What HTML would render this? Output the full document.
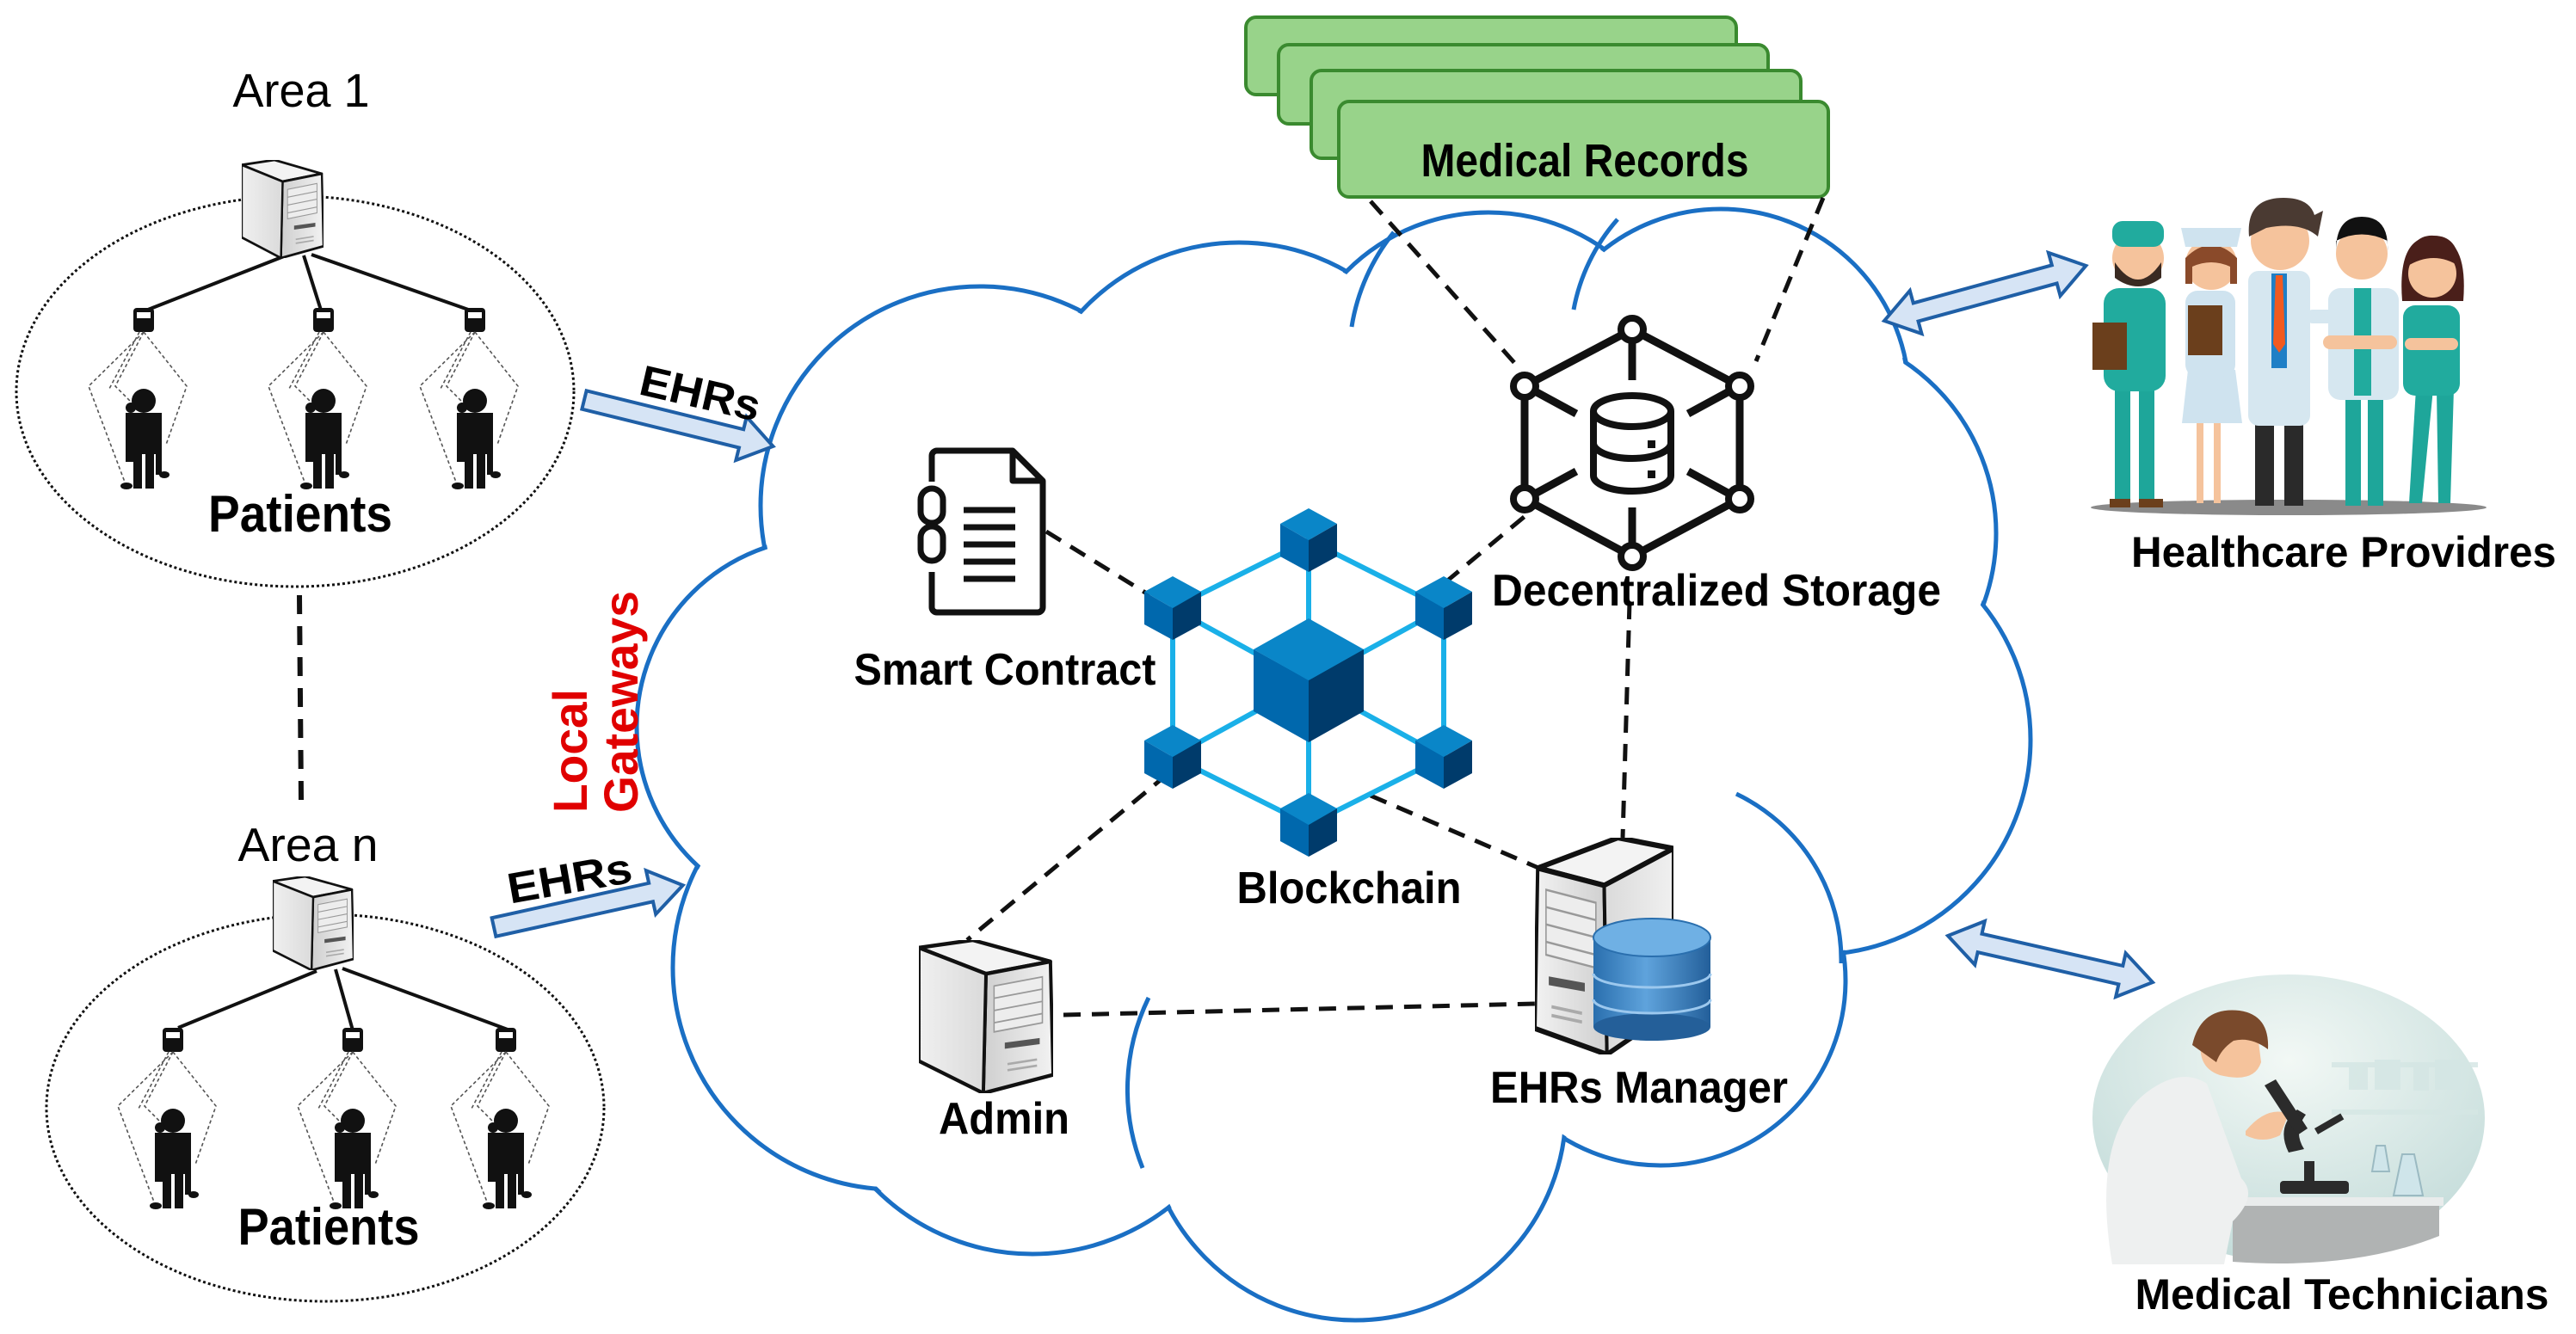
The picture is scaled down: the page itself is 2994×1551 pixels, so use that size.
<!DOCTYPE html>
<html><head><meta charset="utf-8"><style>
html,body{margin:0;padding:0;background:#fff;}
svg{display:block;}
text{font-family:"Liberation Sans",Arial,sans-serif;}
</style></head><body>
<svg width="2994" height="1551" viewBox="0 0 2994 1551" xmlns="http://www.w3.org/2000/svg">
<defs>
 <linearGradient id="srvF" x1="0" x2="1"><stop offset="0" stop-color="#f2f2f2"/><stop offset="1" stop-color="#cfcfcf"/></linearGradient>
 <linearGradient id="srvS" x1="0" x2="1"><stop offset="0" stop-color="#dadada"/><stop offset="1" stop-color="#f0f0f0"/></linearGradient>
 <linearGradient id="dbg" x1="0" x2="1"><stop offset="0" stop-color="#2a6fae"/><stop offset="0.45" stop-color="#5fa3dc"/><stop offset="1" stop-color="#235f9a"/></linearGradient>
 <radialGradient id="lab" cx="0.5" cy="0.3" r="0.7"><stop offset="0" stop-color="#f2f8f5"/><stop offset="1" stop-color="#c4dcda"/></radialGradient>
 <symbol id="server" viewBox="0 0 100 100" preserveAspectRatio="none">
  <polygon points="2,14 60,0 100,5 50,22" fill="#f3f3f3" stroke="#111" stroke-width="2.5" stroke-linejoin="round"/>
  <polygon points="2,14 50,22 52,100 0,88" fill="url(#srvF)" stroke="#111" stroke-width="2.5" stroke-linejoin="round"/>
  <polygon points="50,22 100,5 100,79 52,100" fill="url(#srvS)" stroke="#111" stroke-width="2.5" stroke-linejoin="round"/>
  <polygon points="8,24 44,30 44,60 8,54" fill="#ededed" stroke="#999" stroke-width="1"/>
  <line x1="8" y1="32" x2="44" y2="38" stroke="#999" stroke-width="1"/>
  <line x1="8" y1="40" x2="44" y2="46" stroke="#999" stroke-width="1"/>
  <line x1="8" y1="48" x2="44" y2="54" stroke="#999" stroke-width="1"/>
  <polygon points="10,64 36,67 36,71 10,68" fill="#555"/>
  <line x1="12" y1="78" x2="34" y2="81" stroke="#aaa" stroke-width="1.5"/>
  <line x1="12" y1="82" x2="34" y2="85" stroke="#aaa" stroke-width="1.5"/>
 </symbol>
 <g id="patient">
  <rect x="-12" y="-14" width="24" height="28" rx="4" fill="#111"/>
  <rect x="-8" y="-9" width="16" height="7" fill="#fff"/>
  <g fill="none" stroke="#555" stroke-width="1.6" stroke-dasharray="4 3">
   <path d="M0,14 L-64,77 L-21,191"/>
   <path d="M0,14 L-33,77 L-10,100"/>
   <path d="M0,14 L50,77 L26,145"/>
   <path d="M-5,14 L-40,80"/>
  </g>
  <circle cx="0" cy="94" r="14" fill="#111"/>
  <circle cx="-15" cy="102" r="6" fill="#111"/>
  <rect x="-21" y="108" width="42" height="48" fill="#111"/>
  <rect x="-21" y="150" width="10" height="15" fill="#111"/>
  <rect x="14" y="150" width="7" height="30" fill="#111"/>
  <ellipse cx="24" cy="180" rx="6" ry="4" fill="#111"/>
  <rect x="-12" y="150" width="10" height="46" fill="#111"/>
  <rect x="2" y="150" width="10" height="46" fill="#111"/>
  <ellipse cx="-20" cy="193" rx="7" ry="4" fill="#111"/>
 </g>
</defs>

<!-- ===== Left areas ===== -->
<ellipse cx="343" cy="455" rx="324" ry="227" fill="none" stroke="#111" stroke-width="3" stroke-dasharray="3 3"/>
<ellipse cx="378" cy="1288" rx="324" ry="225" fill="none" stroke="#111" stroke-width="3" stroke-dasharray="3 3"/>
<g stroke="#111" stroke-width="4">
 <line x1="330" y1="298" x2="172" y2="360"/><line x1="353" y1="297" x2="376" y2="370"/><line x1="362" y1="296" x2="550" y2="362"/>
 <line x1="368" y1="1129" x2="207" y2="1195"/><line x1="390" y1="1127" x2="412" y2="1205"/><line x1="398" y1="1126" x2="590" y2="1197"/>
</g>
<g transform="translate(376,186) scale(-1,1)"><use href="#server" width="95" height="114"/></g>
<g transform="translate(411,1019) scale(-1,1)"><use href="#server" width="94" height="109"/></g>
<use href="#patient" transform="translate(167,372)"/>
<use href="#patient" transform="translate(376,372)"/>
<use href="#patient" transform="translate(552,372)"/>
<use href="#patient" transform="translate(201,1209)"/>
<use href="#patient" transform="translate(410,1209)"/>
<use href="#patient" transform="translate(588,1209)"/>

<text x="350" y="124" font-size="55" text-anchor="middle" textLength="159" lengthAdjust="spacingAndGlyphs">Area 1</text>
<text x="349" y="618" font-size="60" font-weight="bold" text-anchor="middle" textLength="214" lengthAdjust="spacingAndGlyphs">Patients</text>
<text x="358" y="1001" font-size="55" text-anchor="middle" textLength="163" lengthAdjust="spacingAndGlyphs">Area n</text>
<text x="382" y="1447" font-size="60" font-weight="bold" text-anchor="middle" textLength="211" lengthAdjust="spacingAndGlyphs">Patients</text>
<line x1="348" y1="692" x2="350" y2="930" stroke="#111" stroke-width="6" stroke-dasharray="22 14"/>

<!-- ===== Cloud ===== -->
<g fill="#fff" stroke="#1a6fc4" stroke-width="5">
 <circle cx="1139" cy="588" r="255"/>
 <circle cx="1440" cy="532" r="250"/>
 <circle cx="1730" cy="480" r="233"/>
 <circle cx="2000" cy="462" r="219"/>
 <circle cx="2080" cy="620" r="240"/>
 <circle cx="2110" cy="860" r="250"/>
 <circle cx="1930" cy="1140" r="215"/>
 <circle cx="1575" cy="1290" r="245"/>
 <circle cx="1200" cy="1200" r="258"/>
 <circle cx="1040" cy="1125" r="258"/>
 <circle cx="960" cy="845" r="220"/>
</g>
<g fill="#fff">
 <circle cx="1139" cy="588" r="252"/>
 <circle cx="1440" cy="532" r="247"/>
 <circle cx="1730" cy="480" r="230"/>
 <circle cx="2000" cy="462" r="216"/>
 <circle cx="2080" cy="620" r="237"/>
 <circle cx="2110" cy="860" r="247"/>
 <circle cx="1930" cy="1140" r="212"/>
 <circle cx="1575" cy="1290" r="242"/>
 <circle cx="1200" cy="1200" r="255"/>
 <circle cx="1040" cy="1125" r="255"/>
 <circle cx="960" cy="845" r="217"/>
 <polygon points="1000,700 1500,520 2000,500 2150,900 1900,1200 1500,1300 1050,1250 900,900"/>
</g>
<g fill="none" stroke="#1a6fc4" stroke-width="5">
 <path d="M1328,1358 A245,245 0 0 1 1335,1160"/>
 <path d="M2018,923 A215,215 0 0 1 2140,1120"/>
 <path d="M1571,380 A233,233 0 0 1 1620,270"/>
 <path d="M1829,360 A219,219 0 0 1 1880,255"/>
</g>

<!-- EHR arrows -->
<g transform="translate(679,465) rotate(13.8)"><polygon points="0,-11 188,-11 188,-26 226,0 188,26 188,11 0,11" fill="#d6e4f5" stroke="#1f5fa6" stroke-width="4"/></g>
<g transform="translate(574,1078) rotate(-12.5)"><polygon points="0,-11 187,-11 187,-26 225,0 187,26 187,11 0,11" fill="#d6e4f5" stroke="#1f5fa6" stroke-width="4"/></g>
<text transform="translate(810,474) rotate(13)" font-size="50" font-weight="bold" text-anchor="middle" textLength="142" lengthAdjust="spacingAndGlyphs">EHRs</text>
<text transform="translate(665,1038) rotate(-10)" font-size="50" font-weight="bold" text-anchor="middle" textLength="146" lengthAdjust="spacingAndGlyphs">EHRs</text>
<text transform="translate(682,873) rotate(-90)" font-size="56" font-weight="bold" fill="#e00000" text-anchor="middle" textLength="144" lengthAdjust="spacingAndGlyphs">Local</text>
<text transform="translate(741,816) rotate(-90)" font-size="56" font-weight="bold" fill="#e00000" text-anchor="middle" textLength="258" lengthAdjust="spacingAndGlyphs">Gateways</text>

<!-- Medical records -->
<g fill="#98d38a" stroke="#3a8a2f" stroke-width="4">
 <rect x="1448" y="20" width="570" height="90" rx="12"/>
 <rect x="1486" y="52" width="569" height="92" rx="12"/>
 <rect x="1524" y="82" width="569" height="102" rx="12"/>
 <rect x="1556" y="118" width="569" height="111" rx="12"/>
</g>
<text x="1842" y="205" font-size="54" font-weight="bold" text-anchor="middle" textLength="381" lengthAdjust="spacingAndGlyphs">Medical Records</text>

<!-- dashed connectors -->
<g stroke="#111" stroke-width="5" stroke-dasharray="20 13" fill="none">
 <line x1="1593" y1="234" x2="1763" y2="425"/>
 <line x1="2119" y1="230" x2="2041" y2="420"/>
 <line x1="1216" y1="618" x2="1336" y2="692"/>
 <line x1="1680" y1="677" x2="1775" y2="598"/>
 <line x1="1894" y1="700" x2="1886" y2="974"/>
 <line x1="1593" y1="925" x2="1788" y2="1009"/>
 <line x1="1357" y1="900" x2="1124" y2="1093"/>
 <line x1="1236" y1="1180" x2="1784" y2="1167"/>
</g>

<!-- Storage icon -->
<g stroke="#111" stroke-width="9" fill="none" stroke-linecap="butt">
 <polygon points="1897,383 2022,449 2022,580 1897,647 1772,580 1772,449"/>
 <line x1="1897" y1="396" x2="1897" y2="442"/>
 <line x1="1897" y1="590" x2="1897" y2="634"/>
 <line x1="1786" y1="456" x2="1832" y2="481"/>
 <line x1="2008" y1="456" x2="1962" y2="481"/>
 <line x1="1786" y1="573" x2="1832" y2="548"/>
 <line x1="2008" y1="573" x2="1962" y2="548"/>
 <path d="M1852,478 a45,18 0 0 1 90,0 v75 a45,18 0 0 1 -90,0 z" stroke-width="8"/>
 <path d="M1852,478 a45,18 0 0 0 90,0" stroke-width="8"/>
 <path d="M1852,515 a45,18 0 0 0 90,0" stroke-width="8"/>
</g>
<rect x="1915" y="512" width="9" height="9" fill="#111"/><rect x="1915" y="547" width="9" height="9" fill="#111"/>
<g fill="#fff" stroke="#111" stroke-width="8">
 <circle cx="1897" cy="383" r="13"/><circle cx="2022" cy="449" r="13"/><circle cx="2022" cy="580" r="13"/>
 <circle cx="1897" cy="647" r="13"/><circle cx="1772" cy="580" r="13"/><circle cx="1772" cy="449" r="13"/>
</g>
<text x="1995" y="704" font-size="52" font-weight="bold" text-anchor="middle" textLength="522" lengthAdjust="spacingAndGlyphs">Decentralized Storage</text>

<!-- Smart contract -->
<g fill="none" stroke="#111" stroke-width="7" stroke-linejoin="round">
 <path d="M1083,560 V530 a6,6 0 0 1 6,-6 H1177 L1212,559 V706 a6,6 0 0 1 -6,6 H1089 a6,6 0 0 1 -6,-6 V665"/>
 <path d="M1177,524 V559 H1212"/>
 <rect x="1070" y="568" width="26" height="40" rx="13"/>
 <rect x="1070" y="612" width="26" height="40" rx="13"/>
 <line x1="1120" y1="593" x2="1180" y2="593"/><line x1="1120" y1="613" x2="1180" y2="613"/>
 <line x1="1120" y1="633" x2="1180" y2="633"/><line x1="1120" y1="653" x2="1180" y2="653"/>
 <line x1="1120" y1="673" x2="1180" y2="673"/>
</g>
<text x="1168" y="796" font-size="52" font-weight="bold" text-anchor="middle" textLength="351" lengthAdjust="spacingAndGlyphs">Smart Contract</text>

<!-- Blockchain -->
<g stroke="#1ab0e8" stroke-width="6" fill="none">
 <polygon points="1521,628 1678,707 1678,880 1521,959 1363,880 1363,707"/>
 <line x1="1521" y1="628" x2="1521" y2="959"/>
 <line x1="1363" y1="707" x2="1678" y2="880"/>
 <line x1="1678" y1="707" x2="1363" y2="880"/>
</g>
<polygon points="1521,719 1585,755 1521,791 1457,755" fill="#0a86c8"/>
<polygon points="1457,755 1521,791 1521,863 1457,827" fill="#0068ad"/>
<polygon points="1521,791 1585,755 1585,827 1521,863" fill="#003b6b"/>
<g>
 <g transform="translate(1521,628)"><polygon points="0,-37 33,-19 0,0 -33,-19" fill="#0a86c8"/><polygon points="-33,-19 0,0 0,37 -33,19" fill="#0068ad"/><polygon points="0,0 33,-19 33,19 0,37" fill="#003b6b"/></g>
 <g transform="translate(1363,707)"><polygon points="0,-37 33,-19 0,0 -33,-19" fill="#0a86c8"/><polygon points="-33,-19 0,0 0,37 -33,19" fill="#0068ad"/><polygon points="0,0 33,-19 33,19 0,37" fill="#003b6b"/></g>
 <g transform="translate(1678,707)"><polygon points="0,-37 33,-19 0,0 -33,-19" fill="#0a86c8"/><polygon points="-33,-19 0,0 0,37 -33,19" fill="#0068ad"/><polygon points="0,0 33,-19 33,19 0,37" fill="#003b6b"/></g>
 <g transform="translate(1363,880)"><polygon points="0,-37 33,-19 0,0 -33,-19" fill="#0a86c8"/><polygon points="-33,-19 0,0 0,37 -33,19" fill="#0068ad"/><polygon points="0,0 33,-19 33,19 0,37" fill="#003b6b"/></g>
 <g transform="translate(1678,880)"><polygon points="0,-37 33,-19 0,0 -33,-19" fill="#0a86c8"/><polygon points="-33,-19 0,0 0,37 -33,19" fill="#0068ad"/><polygon points="0,0 33,-19 33,19 0,37" fill="#003b6b"/></g>
 <g transform="translate(1521,959)"><polygon points="0,-37 33,-19 0,0 -33,-19" fill="#0a86c8"/><polygon points="-33,-19 0,0 0,37 -33,19" fill="#0068ad"/><polygon points="0,0 33,-19 33,19 0,37" fill="#003b6b"/></g>
</g>
<text x="1568" y="1050" font-size="52" font-weight="bold" text-anchor="middle" textLength="261" lengthAdjust="spacingAndGlyphs">Blockchain</text>

<!-- Admin -->
<g transform="translate(1224,1093) scale(-1,1)"><use href="#server" width="156" height="178"/></g>
<text x="1167" y="1318" font-size="52" font-weight="bold" text-anchor="middle" textLength="152" lengthAdjust="spacingAndGlyphs">Admin</text>

<!-- EHRs manager -->
<use href="#server" x="1784" y="974" width="161" height="252"/>
<g>
 <rect x="1852" y="1090" width="136" height="104" fill="url(#dbg)"/>
 <ellipse cx="1920" cy="1194" rx="68" ry="16" fill="#245f99"/>
 <path d="M1852,1132 a68,16 0 0 0 136,0" fill="none" stroke="#9cc8ee" stroke-width="3"/>
 <path d="M1852,1162 a68,16 0 0 0 136,0" fill="none" stroke="#9cc8ee" stroke-width="3"/>
 <ellipse cx="1920" cy="1090" rx="68" ry="22" fill="#6fb0e4" stroke="#2a6fae" stroke-width="2"/>
</g>
<text x="1905" y="1282" font-size="52" font-weight="bold" text-anchor="middle" textLength="346" lengthAdjust="spacingAndGlyphs">EHRs Manager</text>

<!-- double arrows -->
<g transform="translate(2190,373) rotate(-15.3)"><polygon points="0,0 38,-26 38,-11 205,-11 205,-26 243,0 205,26 205,11 38,11 38,26" fill="#d6e4f5" stroke="#1f5fa6" stroke-width="4"/></g>
<g transform="translate(2264,1088) rotate(12.8)"><polygon points="0,0 38,-26 38,-11 206,-11 206,-26 244,0 206,26 206,11 38,11 38,26" fill="#d6e4f5" stroke="#1f5fa6" stroke-width="4"/></g>

<!-- Healthcare providers -->
<ellipse cx="2660" cy="590" rx="230" ry="9" fill="#8a8a8a"/>
<g>
 <rect x="2458" y="448" width="18" height="140" fill="#1ea69a"/><rect x="2486" y="448" width="18" height="140" fill="#1ea69a"/>
 <rect x="2445" y="335" width="72" height="120" rx="18" fill="#21ab9e"/>
 <rect x="2432" y="375" width="40" height="55" fill="#6b3f1c"/>
 <circle cx="2485" cy="300" r="30" fill="#f5c39c"/>
 <path d="M2458,305 q27,40 54,0 v18 q-27,20 -54,0z" fill="#3a2a22"/>
 <rect x="2455" y="257" width="60" height="30" rx="12" fill="#21ab9e"/>
 <rect x="2452" y="580" width="24" height="10" fill="#6b3f1c"/><rect x="2486" y="580" width="28" height="10" fill="#6b3f1c"/>
</g>
<g>
 <rect x="2553" y="480" width="8" height="105" fill="#f5c39c"/><rect x="2573" y="480" width="8" height="105" fill="#f5c39c"/>
 <path d="M2543,430 h55 l8,62 h-70z" fill="#cfe3ef"/>
 <rect x="2540" y="338" width="58" height="100" rx="14" fill="#cfe3ef"/>
 <rect x="2543" y="355" width="40" height="58" fill="#6b3f1c"/>
 <circle cx="2570" cy="307" r="30" fill="#f5c39c"/>
 <path d="M2540,300 q30,-30 60,0 v30 h-8 v-20 q-22,-10 -44,0 v20 h-8z" fill="#8a4a2a"/>
 <path d="M2535,265 h70 l-5,22 h-60z" fill="#cfe3ef"/>
</g>
<g>
 <rect x="2621" y="490" width="22" height="98" fill="#2a2a2a"/><rect x="2655" y="490" width="22" height="98" fill="#2a2a2a"/>
 <rect x="2613" y="315" width="72" height="180" rx="12" fill="#d6e7f0"/>
 <rect x="2640" y="318" width="18" height="110" fill="#1f7fc6"/>
 <polygon points="2645,320 2653,320 2656,400 2649,410 2642,400" fill="#f25a1f"/>
 <rect x="2680" y="360" width="60" height="16" rx="8" fill="#d6e7f0"/>
 <circle cx="2650" cy="280" r="34" fill="#f5c39c"/>
 <path d="M2614,275 q-4,-45 40,-45 q30,0 36,20 l10,-5 l-6,30 q-20,-18 -60,-10 z" fill="#4a3a32"/>
</g>
<g>
 <rect x="2726" y="455" width="18" height="133" fill="#1ea69a"/><rect x="2752" y="455" width="18" height="133" fill="#1ea69a"/>
 <rect x="2706" y="335" width="82" height="130" rx="14" fill="#d6e7f0"/>
 <rect x="2736" y="335" width="20" height="125" fill="#21ab9e"/>
 <rect x="2700" y="390" width="86" height="16" rx="8" fill="#f5c39c"/>
 <circle cx="2745" cy="295" r="30" fill="#f5c39c"/>
 <path d="M2715,292 q0,-40 30,-40 q32,0 30,40 v-12 q-30,-15 -60,0z" fill="#111"/>
</g>
<g>
 <polygon points="2808,452 2828,452 2815,585 2800,585" fill="#1ea69a"/><polygon points="2832,452 2852,452 2848,585 2834,585" fill="#1ea69a"/>
 <rect x="2793" y="355" width="66" height="105" rx="14" fill="#21ab9e"/>
 <rect x="2795" y="393" width="62" height="14" rx="7" fill="#f5c39c"/>
 <path d="M2792,350 q-6,-75 35,-75 q42,0 36,75 z" fill="#4a1f1a"/>
 <circle cx="2827" cy="318" r="28" fill="#f5c39c"/>
 <path d="M2797,310 q5,-38 32,-36 q28,0 30,36 q-30,-20 -62,0z" fill="#4a1f1a"/>
</g>
<text x="2724" y="659" font-size="50" font-weight="bold" text-anchor="middle" textLength="494" lengthAdjust="spacingAndGlyphs">Healthcare Providres</text>

<!-- Lab technician -->
<ellipse cx="2660" cy="1300" rx="228" ry="167" fill="url(#lab)"/>
<g fill="#d4e6e4" opacity="0.8">
 <rect x="2710" y="1235" width="170" height="6"/><rect x="2710" y="1290" width="170" height="6"/>
 <rect x="2730" y="1237" width="22" height="30"/><rect x="2760" y="1232" width="30" height="35"/><rect x="2805" y="1240" width="18" height="28"/><rect x="2830" y="1232" width="30" height="35"/>
</g>
<rect x="2590" y="1392" width="250" height="10" fill="#e9ecec"/>
<path d="M2595,1402 h240 v35 q-100,40 -240,30z" fill="#b0b3b3"/>
<path d="M2455,1470 q-25,-150 40,-200 q40,-30 70,-10 l40,110 q20,20 -10,50 l-10,50 z" fill="#eef0f0"/>
<path d="M2560,1200 q-10,40 20,50 q40,10 48,-15 l-5,-40 q-30,-20 -63,5z" fill="#f5c39c"/>
<path d="M2548,1215 q10,-45 55,-40 q35,5 33,45 q-20,-15 -40,-10 q-15,10 -20,25z" fill="#7a4a2c"/>
<path d="M2610,1315 q25,-30 50,-20 l-10,25 q-20,10 -40,0z" fill="#f5c39c"/>
<g fill="#2b2b2b">
 <rect x="2650" y="1373" width="80" height="15" rx="4"/>
 <path d="M2660,1340 q-15,-30 10,-50 l10,6 q-15,20 -2,40z"/>
 <rect x="2678" y="1350" width="12" height="25"/>
 <polygon points="2632,1262 2645,1255 2682,1312 2670,1320"/>
 <rect x="2690" y="1312" width="35" height="8" transform="rotate(-30 2690 1312)"/>
</g>
<path d="M2757,1362 l5,-30 h10 l5,30z" fill="#cfe5ea" stroke="#9bbac2" stroke-width="2"/>
<path d="M2782,1390 l10,-48 h14 l10,48z" fill="#cfe5ea" stroke="#9bbac2" stroke-width="2"/>
<text x="2722" y="1522" font-size="50" font-weight="bold" text-anchor="middle" textLength="481" lengthAdjust="spacingAndGlyphs">Medical Technicians</text>
</svg>
</body></html>
